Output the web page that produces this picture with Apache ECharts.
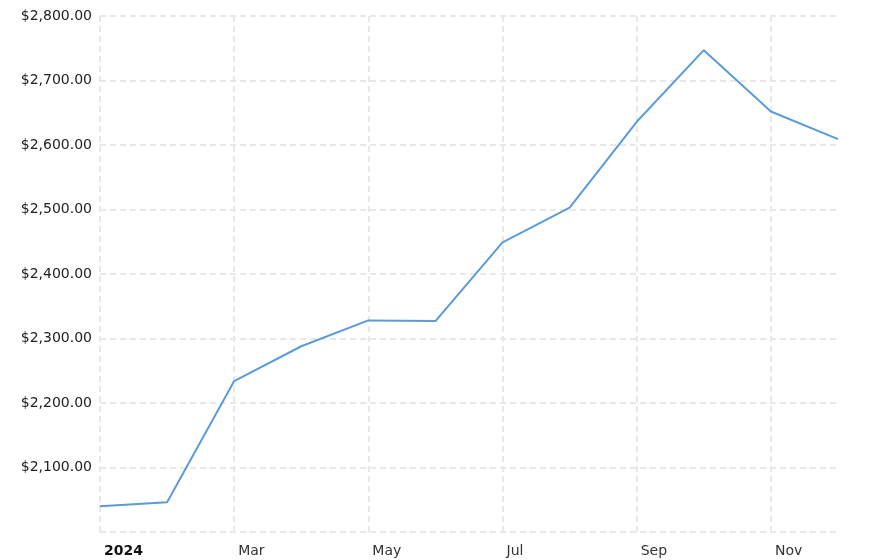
<!DOCTYPE html>
<html>
<head>
<meta charset="utf-8">
<style>
  html, body { margin: 0; padding: 0; background: #fff; }
  #chart { width: 888px; height: 560px; }
</style>
<script src="https://cdn.jsdelivr.net/npm/echarts@6/dist/echarts.min.js"></script>
</head>
<body>
<div id="chart"></div>
<script>
// months of 2024, Jan shown as the year
var months = ['Jan', 'Feb', 'Mar', 'Apr', 'May', 'Jun', 'Jul', 'Aug', 'Sep', 'Oct', 'Nov', 'Dec'];
var prices = [2040, 2046, 2234, 2288, 2328, 2327, 2449, 2503, 2636, 2747, 2652, 2609];
var yearLabel = '2024';

var chart = echarts.init(document.getElementById('chart'));

var gridLine = {
    show: true,
    lineStyle: {
        color: '#e8e8e8',
        width: 2,
        type: [6, 4]
    }
};

chart.setOption({
    animation: false,
    textStyle: { fontFamily: 'DejaVu Sans' },
    grid: {
        left: 100,
        right: 50,
        top: 16,
        bottom: 28
    },
    xAxis: {
        type: 'category',
        data: months,
        boundaryGap: false,
        axisLine: { show: false },
        axisTick: { show: false },
        splitLine: Object.assign({ interval: 1 }, gridLine),
        axisLabel: {
            interval: 1,
            align: 'left',
            margin: 12,
            padding: [0, 0, 0, 4],
            fontSize: 14,
            color: '#333',
            formatter: function (v) {
                // first month carries the year in bold
                return v === 'Jan' ? '{y|' + yearLabel + '}' : v;
            },
            rich: {
                y: { fontWeight: 'bold', color: '#111', fontSize: 14 }
            }
        }
    },
    yAxis: {
        type: 'value',
        min: 2000,
        max: 2800,
        interval: 100,
        axisLine: { show: false },
        axisTick: { show: false },
        splitLine: gridLine,
        axisLabel: {
            margin: 8,
            fontSize: 14,
            color: '#222',
            showMinLabel: false,
            formatter: function (v) {
                return '$' + v.toLocaleString('en-US', { minimumFractionDigits: 2, maximumFractionDigits: 2 });
            }
        }
    },
    series: [{
        type: 'line',
        data: prices,
        symbol: 'none',
        lineStyle: {
            color: '#5b9bd8',
            width: 2
        }
    }]
});
</script>
</body>
</html>
